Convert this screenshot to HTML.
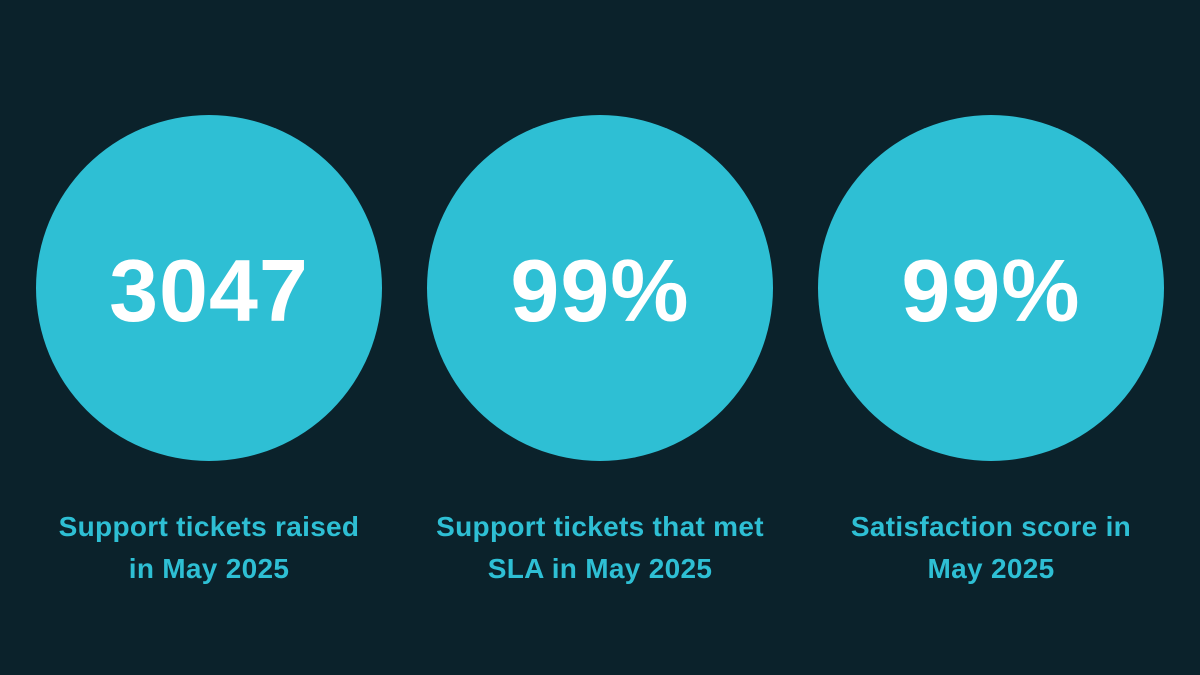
<!DOCTYPE html>
<html><head><meta charset="utf-8"><style>
html,body{margin:0;padding:0;width:1200px;height:675px;background:#0b222b;overflow:hidden;font-family:"Liberation Sans",sans-serif}
.c{position:absolute;top:115px;width:346px;height:346px;border-radius:50%;background:#2ebfd4;display:flex;align-items:center;justify-content:center;color:#fff;font-size:88px;font-weight:bold;letter-spacing:1px}
.c span{position:relative;top:3px}
.l{position:absolute;top:506px;width:400px;text-align:center;color:#2ebfd4;font-size:28px;font-weight:bold;line-height:42px;letter-spacing:0.3px}
</style></head><body>
<div class="c" style="left:36px"><span>3047</span></div>
<div class="c" style="left:427px"><span>99%</span></div>
<div class="c" style="left:818px"><span>99%</span></div>
<div class="l" style="left:9px">Support tickets raised<br>in May 2025</div>
<div class="l" style="left:400px">Support tickets that met<br>SLA in May 2025</div>
<div class="l" style="left:791px">Satisfaction score in<br>May 2025</div>
</body></html>
